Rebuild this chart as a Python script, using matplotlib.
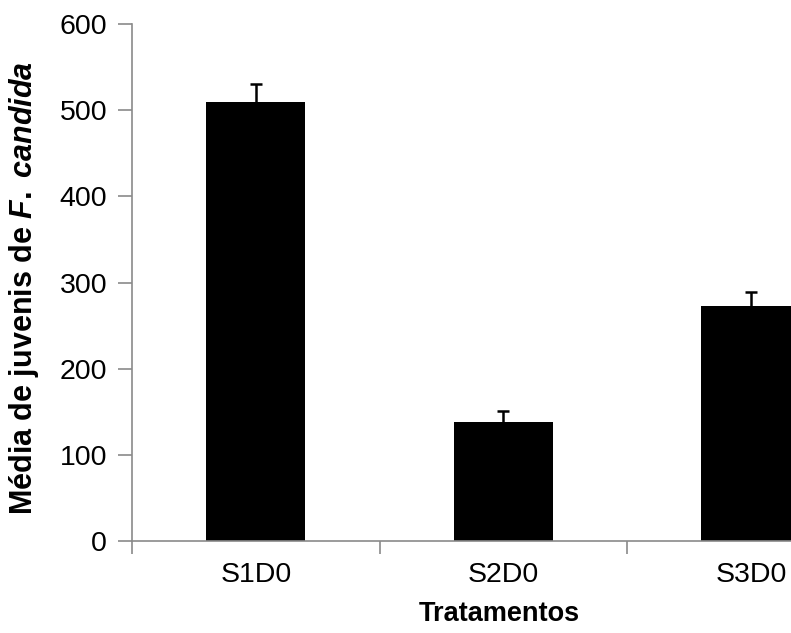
import matplotlib
matplotlib.use("Agg")
import matplotlib.pyplot as plt
from matplotlib.ticker import FixedLocator, NullFormatter

plt.rcParams['font.family'] = ['Liberation Sans', 'DejaVu Sans']
plt.rcParams['mathtext.fontset'] = 'custom'
plt.rcParams['mathtext.it'] = 'Liberation Sans:italic:bold'
plt.rcParams['mathtext.rm'] = 'Liberation Sans:bold'

categories = ["S1D0", "S2D0", "S3D0"]
means = [509, 138, 273]
errors = [21, 13, 16]
y_ticks = [0, 100, 200, 300, 400, 500, 600]

fig = plt.figure(figsize=(7.91, 6.33), dpi=100)
# axes runs past the right edge of the figure, so the last bar is clipped
ax = fig.add_axes([0.1669, 0.1453, 0.939, 0.8167])

x = list(range(len(categories)))
ax.bar(x, means, width=0.4, color="black", zorder=2)
ax.errorbar(x, means, yerr=errors, fmt="none",
            ecolor="black", elinewidth=1.8, capsize=4, capthick=1.8, zorder=3)

ax.set_xlim(-0.5, len(categories) - 0.5)
ax.set_ylim(0, 600)

axis_gray = "#8a8a8a"
for side in ("top", "right"):
    ax.spines[side].set_visible(False)
for side in ("left", "bottom"):
    ax.spines[side].set_color(axis_gray)
    ax.spines[side].set_linewidth(1.2)

ax.set_yticks(y_ticks)
ax.tick_params(axis="y", direction="out", length=10, width=1.2, color=axis_gray,
               labelsize=20.5, pad=8)

# category labels without tick marks; boundary tick marks between categories
ax.set_xticks(x)
ax.set_xticklabels(categories)
ax.tick_params(axis="x", which="major", length=0, labelsize=20.5, pad=15)
ax.xaxis.set_minor_locator(FixedLocator([i - 0.5 for i in range(len(categories) + 1)]))
ax.xaxis.set_minor_formatter(NullFormatter())
ax.tick_params(axis="x", which="minor", direction="out", length=9, width=1.2, color=axis_gray)

ax.set_xlabel("Tratamentos", fontsize=19.5, fontweight="bold")
ax.xaxis.set_label_coords(0.494, -0.116)
ax.set_ylabel(r"Média de juvenis de $\it{F.}$ $\it{candida}$", fontsize=22,
              fontweight="bold")
ax.yaxis.set_label_coords(-0.1225, 0.49)

fig.savefig("out.png", dpi=100)
